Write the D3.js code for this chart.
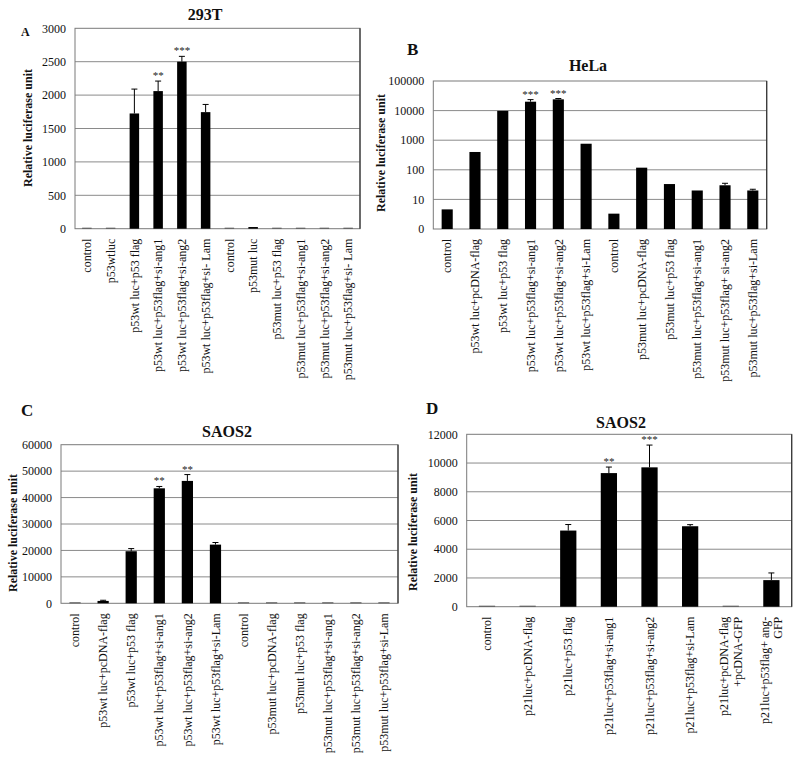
<!DOCTYPE html>
<html>
<head>
<meta charset="utf-8">
<script src="https://cdn.jsdelivr.net/npm/d3@7"></script>
<style>
  html, body { margin: 0; padding: 0; background: #fff; }
  svg { display: block; font-family: "Liberation Serif", "Times New Roman", serif; }
</style>
</head>
<body>
<svg id="chart" width="800" height="771"></svg>
<script>
// ---------- Panel A: 293T ----------
const categoriesA = ["control", "p53wtluc", "p53wt luc+p53 flag", "p53wt luc+p53flag+si-ang1",
  "p53wt luc+p53flag+si-ang2", "p53wt luc+p53flag+si- Lam", "control", "p53mut luc",
  "p53mut luc+p53 flag", "p53mut luc+p53flag+si-ang1", "p53mut luc+p53flag+si-ang2",
  "p53mut luc+p53flag+si- Lam"];
const valuesA = [0, 12, 1725, 2060, 2500, 1745, 0, 25, 4, 3, 3, 6];
const errorsA = [0, 0, 365, 150, 80, 115, 0, 0, 0, 0, 0, 0];
const starsA = ["", "", "", "**", "***", "", "", "", "", "", "", ""];
const ticksA = [0, 500, 1000, 1500, 2000, 2500, 3000];

// ---------- Panel B: HeLa (log) ----------
const categoriesB = ["control", "p53wt luc+pcDNA-flag", "p53wt luc+p53 flag", "p53wt luc+p53flag+si-ang1",
  "p53wt luc+p53flag+si-ang2", "p53wt luc+p53flag+si-Lam", "control", "p53mut luc+pcDNA-flag",
  "p53mut luc+p53 flag", "p53mut luc+p53flag+si-ang1", "p53mut luc+p53flag+ si-ang2",
  "p53mut luc+p53flag+si-Lam"];
const valuesB = [4.6, 400, 9800, 20000, 24000, 760, 3.3, 118, 33, 20, 30, 20];
const errorsB = [0, 0, 0, 3500, 1600, 0, 0, 0, 0, 0, 5, 2];
const starsB = ["", "", "", "***", "***", "", "", "", "", "", "", ""];
const ticksB = [1, 10, 100, 1000, 10000, 100000];
const tickLabelsB = ["0", "10", "100", "1000", "10000", "100000"];

// ---------- Panel C: SAOS2 ----------
const categoriesC = ["control", "p53wt luc+pcDNA-flag", "p53wt luc+p53 flag", "p53wt luc+p53flag+si-ang1",
  "p53wt luc+p53flag+si-ang2", "p53wt luc+p53flag+si-Lam", "control", "p53mut luc+pcDNA-flag",
  "p53mut luc+p53 flag", "p53mut luc+p53flag+si-ang1", "p53mut luc+p53flag+si-ang2",
  "p53mut luc+p53flag+si-Lam"];
const valuesC = [200, 900, 19700, 43500, 46300, 22200, 200, 200, 200, 200, 200, 200];
const errorsC = [0, 250, 1000, 700, 2400, 800, 0, 0, 0, 0, 0, 0];
const starsC = ["", "", "", "**", "**", "", "", "", "", "", "", ""];
const ticksC = [0, 10000, 20000, 30000, 40000, 50000, 60000];

// ---------- Panel D: SAOS2 ----------
const categoriesD = ["control", "p21luc+pcDNA-flag", "p21luc+p53 flag", "p21luc+p53flag+si-ang1",
  "p21luc+p53flag+si-ang2", "p21luc+p53flag+si-Lam", "p21luc+pcDNA-flag\n+pcDNA-GFP",
  "p21luc+p53flag+ ang-\nGFP"];
const valuesD = [50, 50, 5300, 9300, 9700, 5600, 50, 1850];
const errorsD = [0, 0, 420, 420, 1550, 110, 0, 500];
const starsD = ["", "", "", "**", "***", "", "", ""];
const ticksD = [0, 2000, 4000, 6000, 8000, 10000, 12000];

const svg = d3.select("#chart");

function drawPanel(cfg) {
  const g = svg.append("g");
  const x = d3.scaleBand().domain(d3.range(cfg.categories.length))
    .range([cfg.x0, cfg.x1]).paddingInner(0.6).paddingOuter(0.3);
  const y = cfg.log
    ? d3.scaleLog().domain([1, 100000]).range([cfg.y1, cfg.y0])
    : d3.scaleLinear().domain([0, d3.max(cfg.ticks)]).range([cfg.y1, cfg.y0]);

  // gridlines
  g.selectAll("line.grid").data(cfg.ticks.slice(1, -1)).enter().append("line")
    .attr("x1", cfg.x0).attr("x2", cfg.x1)
    .attr("y1", d => y(d)).attr("y2", d => y(d))
    .attr("stroke", "#8a8a8a").attr("stroke-width", 1);

  // plot border
  g.append("rect").attr("x", cfg.x0).attr("y", cfg.y0)
    .attr("width", cfg.x1 - cfg.x0).attr("height", cfg.y1 - cfg.y0)
    .attr("fill", "none").attr("stroke", "#7a7a7a").attr("stroke-width", 1);
  g.append("line").attr("x1", cfg.x1).attr("x2", cfg.x1).attr("y1", cfg.y0).attr("y2", cfg.y1)
    .attr("stroke", "#333").attr("stroke-width", 1.2);

  // y tick labels
  g.selectAll("text.tick").data(cfg.ticks).enter().append("text")
    .attr("x", cfg.x0 - 9).attr("y", d => y(d)).attr("dy", "0.35em")
    .attr("text-anchor", "end").attr("font-size", 12).attr("fill", "#111")
    .text((d, i) => cfg.tickLabels ? cfg.tickLabels[i] : d);

  const base = cfg.log ? y(1) : y(0);
  const bw = x.bandwidth();

  // bars
  g.selectAll("rect.bar").data(cfg.values).enter().append("rect")
    .attr("x", (d, i) => x(i)).attr("width", bw)
    .attr("y", d => Math.min(y(d), base - 1))
    .attr("height", d => Math.max(base - y(d), 1))
    .attr("fill", d => (base - y(d)) < 1.5 ? "#555" : "#000");

  // error bars
  cfg.values.forEach((v, i) => {
    const e = cfg.errors[i];
    if (!e) return;
    const cx = x(i) + bw / 2;
    g.append("line").attr("x1", cx).attr("x2", cx).attr("y1", y(v)).attr("y2", y(v + e))
      .attr("stroke", "#000").attr("stroke-width", 1);
    g.append("line").attr("x1", cx - 3).attr("x2", cx + 3).attr("y1", y(v + e)).attr("y2", y(v + e))
      .attr("stroke", "#000").attr("stroke-width", 1);
  });

  // stars
  cfg.stars.forEach((s, i) => {
    if (!s) return;
    const cx = x(i) + bw / 2;
    const top = y(cfg.values[i] + cfg.errors[i]);
    g.append("text").attr("x", cx).attr("y", top - 2).attr("text-anchor", "middle")
      .attr("font-size", 11).attr("fill", "#222").text(s);
  });

  // x labels (rotated)
  cfg.categories.forEach((c, i) => {
    const cx = x(i) + bw / 2;
    const lines = c.split("\n");
    const t = g.append("text")
      .attr("transform", `translate(${cx},${cfg.y1 + 10}) rotate(-90)`)
      .attr("text-anchor", "end").attr("font-size", 12).attr("fill", "#111");
    lines.forEach((ln, k) => {
      const off = (k - (lines.length - 1) / 2) * 1.1 + 0.35;
      t.append("tspan").attr("x", 0).attr("dy", k === 0 ? `${off}em` : "1.1em").text(ln);
    });
  });

  // y axis label
  g.append("text")
    .attr("transform", `translate(${cfg.ylabX},${cfg.ylabY}) rotate(-90)`)
    .attr("text-anchor", "middle").attr("dy", "0.35em")
    .attr("font-size", 12).attr("font-weight", "bold").attr("fill", "#111")
    .text("Relative luciferase unit");

  // title
  g.append("text").attr("x", cfg.titleX).attr("y", cfg.titleY)
    .attr("text-anchor", "middle").attr("font-size", 16).attr("font-weight", "bold")
    .attr("fill", "#111").text(cfg.title);

  // panel letter
  g.append("text").attr("x", cfg.letterX).attr("y", cfg.letterY)
    .attr("font-size", cfg.letterSize).attr("font-weight", "bold").attr("fill", "#111")
    .text(cfg.letter);
}

drawPanel({ categories: categoriesA, values: valuesA, errors: errorsA, stars: starsA, ticks: ticksA,
  x0: 75, x1: 360, y0: 28.3, y1: 228.7, ylabX: 28, ylabY: 128,
  title: "293T", titleX: 205, titleY: 20, letter: "A", letterX: 21, letterY: 36, letterSize: 12 });

drawPanel({ categories: categoriesB, values: valuesB, errors: errorsB, stars: starsB, ticks: ticksB,
  tickLabels: tickLabelsB, log: true,
  x0: 433.3, x1: 766.7, y0: 81, y1: 229, ylabX: 381, ylabY: 153,
  title: "HeLa", titleX: 588, titleY: 71, letter: "B", letterX: 407, letterY: 55, letterSize: 17 });

drawPanel({ categories: categoriesC, values: valuesC, errors: errorsC, stars: starsC, ticks: ticksC,
  x0: 61, x1: 398, y0: 444.7, y1: 603.3, ylabX: 12.5, ylabY: 533,
  title: "SAOS2", titleX: 227, titleY: 437, letter: "C", letterX: 21, letterY: 416, letterSize: 17 });

drawPanel({ categories: categoriesD, values: valuesD, errors: errorsD, stars: starsD, ticks: ticksD,
  x0: 466.7, x1: 791.7, y0: 434.3, y1: 606.7, ylabX: 412.5, ylabY: 532,
  title: "SAOS2", titleX: 621, titleY: 427.5, letter: "D", letterX: 426, letterY: 414, letterSize: 17 });
</script>
</body>
</html>
